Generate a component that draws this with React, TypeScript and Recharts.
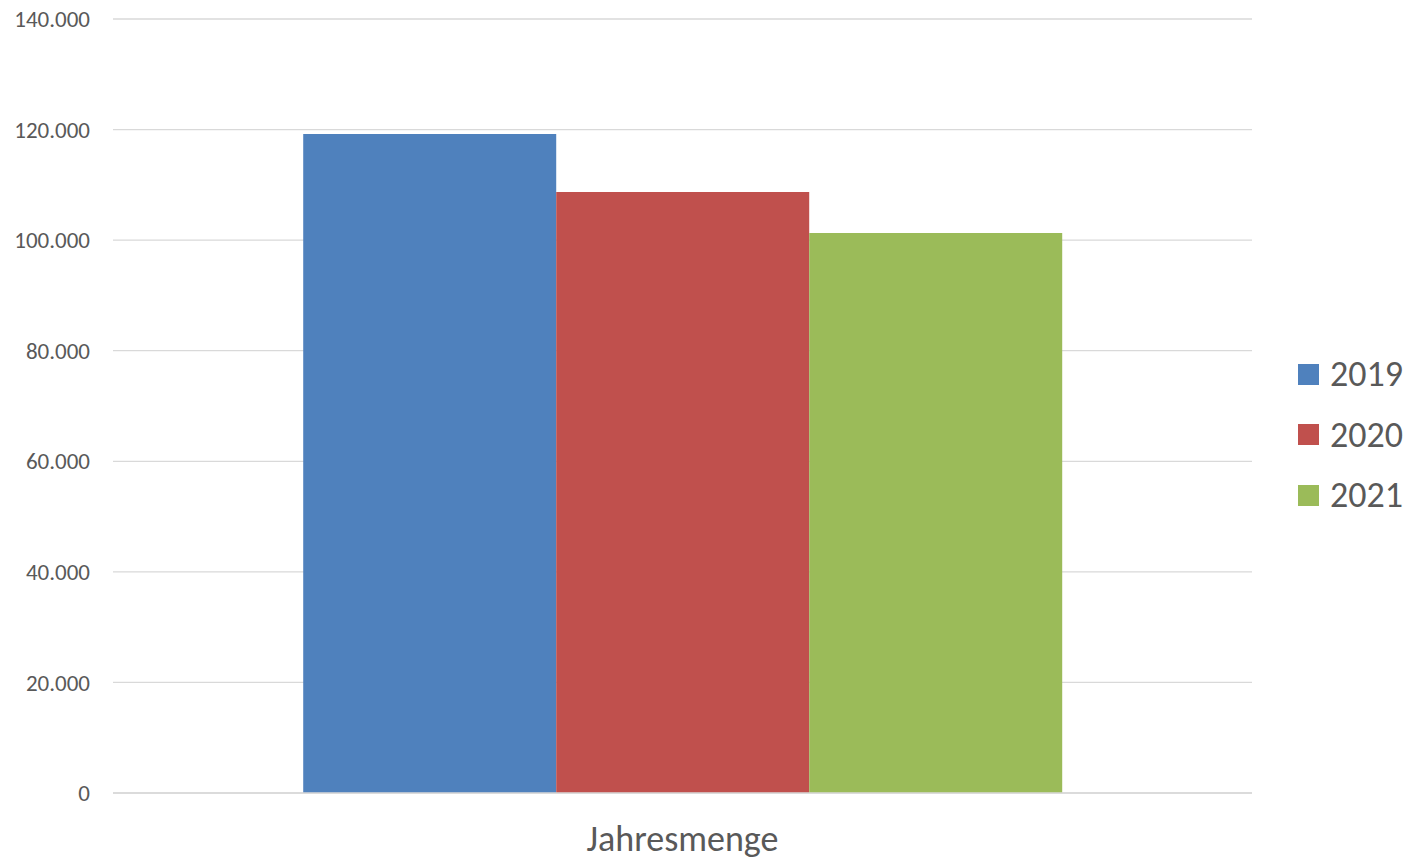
import { BarChart, Bar, XAxis, YAxis, CartesianGrid, Legend } from 'recharts';

const categories = ['Jahresmenge'];
const years = ['2019', '2020', '2021'];
const values2019 = [119200];
const values2020 = [108700];
const values2021 = [101300];
const yTicks = [0, 20000, 40000, 60000, 80000, 100000, 120000, 140000];

const seriesValues = [values2019, values2020, values2021];
const colors = ['#4F81BD', '#C0504D', '#9BBB59'];

const data = categories.map((name, i) => {
    const row: Record<string, string | number> = { name };
    years.forEach((y, s) => {
        row[y] = seriesValues[s][i];
    });
    return row;
});

const font = 'Calibri, Carlito, "Noto Sans", sans-serif';
const textColor = '#595959';

// German thousands separator
const fmt = (v: number) => String(v).replace(/\B(?=(\d{3})+(?!\d))/g, '.');

function LegendBox() {
    return (
        <div style={{ width: 155, fontFamily: font }}>
            {years.map((y, i) => (
                <div key={y} style={{ display: 'flex', alignItems: 'center', height: 60.5, paddingLeft: 46 }}>
                    <div style={{ width: 21, height: 21, background: colors[i], marginRight: 11 }} />
                    <span style={{ fontSize: 36, color: textColor, lineHeight: 1 }}>{y}</span>
                </div>
            ))}
        </div>
    );
}

export default function App() {
    return (
        <div style={{ position: 'absolute', left: 0, top: 0, background: '#fff' }}>
            <BarChart
                width={1407}
                height={861}
                data={data}
                margin={{ top: 19, right: 0, left: 0, bottom: 0 }}
                barCategoryGap="16.7%"
                barGap={0}
            >
                <CartesianGrid vertical={false} stroke="#D9D9D9" strokeWidth={1.3} />
                <XAxis
                    dataKey="name"
                    height={68}
                    axisLine={{ stroke: '#D9D9D9', strokeWidth: 1.3 }}
                    tickLine={false}
                    tickSize={0}
                    tickMargin={32}
                    tick={{ fill: textColor, fontSize: 36, fontFamily: font }}
                />
                <YAxis
                    width={113}
                    domain={[0, 140000]}
                    ticks={yTicks}
                    tickFormatter={fmt}
                    axisLine={false}
                    tickLine={false}
                    tickSize={0}
                    tickMargin={23}
                    tick={{ fill: textColor, fontSize: 23, fontFamily: font }}
                />
                <Legend
                    layout="vertical"
                    align="right"
                    verticalAlign="middle"
                    content={() => <LegendBox />}
                    wrapperStyle={{ top: 344, right: 0, width: 155 }}
                />
                {years.map((y, i) => (
                    <Bar key={y} dataKey={y} fill={colors[i]} isAnimationActive={false} />
                ))}
            </BarChart>
        </div>
    );
}
